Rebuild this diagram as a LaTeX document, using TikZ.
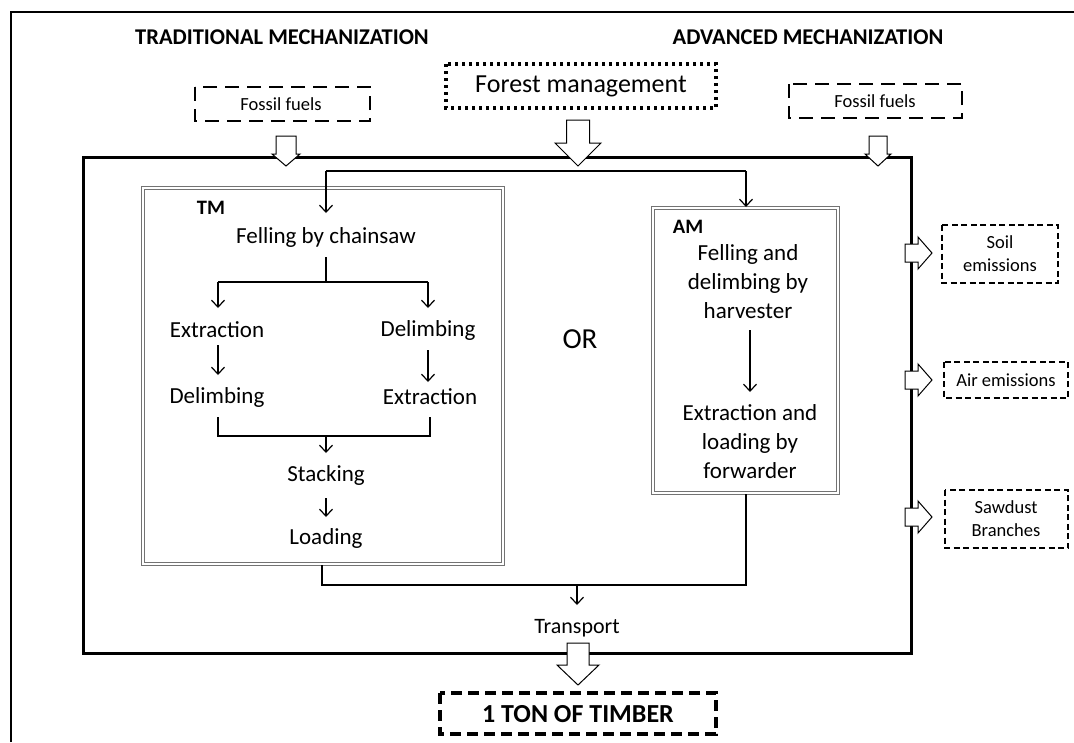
\documentclass[tikz,border=0pt]{standalone}
\usepackage{fontspec}
\setmainfont{Carlito}
\usetikzlibrary{arrows.meta}
\newcommand\blkdown[6]{% x, ytop, ybase, ytip, bodyhalf, headhalf
  \draw[blk] ({#1-#5},#2) -- ({#1+#5},#2) -- ({#1+#5},#3) -- ({#1+#6},#3) -- (#1,#4) -- ({#1-#6},#3) -- ({#1-#5},#3) -- cycle;}
\newcommand\blkright[6]{% y, xleft, xbase, xtip, bodyhalf, headhalf
  \draw[blk] (#2,{#1-#5}) -- (#3,{#1-#5}) -- (#3,{#1-#6}) -- (#4,#1) -- (#3,{#1+#6}) -- (#3,{#1+#5}) -- (#2,{#1+#5}) -- cycle;}
\begin{document}
\begin{tikzpicture}[x=1pt,y=-1pt,
  txt/.style={font=\fontsize{23}{29}\selectfont, inner sep=0pt, align=center},
  hdr/.style={font=\fontsize{22.5}{27}\selectfont\bfseries, inner sep=0pt},
  lbl/.style={font=\fontsize{20.5}{24}\selectfont\bfseries, inner sep=0pt},
  small/.style={font=\fontsize{18.5}{23}\selectfont, inner sep=0pt, align=center},
  conn/.style={line width=1.2pt, -{Straight Barb[length=7pt,width=13pt]}},
  wire/.style={line width=1.2pt},
  blk/.style={draw, fill=white, line width=1pt, line join=miter},
  fossil/.style={draw, line width=2pt, dash pattern=on 14pt off 8pt},
  emis/.style={draw, line width=2pt, dash pattern=on 6pt off 3.5pt},
  procbox/.style={draw=gray!90!black, double=white, double distance=1.6pt, line width=1.2pt}
]
\fill[white] (0,0) rectangle (1074,742);
\useasboundingbox (0,0) rectangle (1074,742);

% outer frame
\draw[line width=1.5pt] (11,742) -- (11,12) -- (1074,12);

% headers
\node[hdr] (hTM) at (282,37) {TRADITIONAL MECHANIZATION};
\node[hdr] (hAM) at (808,37) {ADVANCED MECHANIZATION};

% inputs
\draw[fossil] (195,87) rectangle (370,121);
\node[small] (ffL) at (281,104) {Fossil fuels};
\draw[fossil] (789,84) rectangle (962,118);
\node[small] (ffR) at (875,101) {Fossil fuels};
\draw[line width=3.5pt, dash pattern=on 3pt off 4pt] (446,64) rectangle (716,108);
\node[font=\fontsize{26}{31}\selectfont, inner sep=0pt] (fm) at (581,86) {Forest management};

% main system box
\draw[line width=3pt] (83,157) rectangle (911,653);

% block arrows into the system
\blkdown{286}{136}{154}{166}{10}{14}
\blkdown{878}{136}{154}{166}{9}{13}
\blkdown{578}{120}{143}{166}{11.5}{23}

% TM box
\draw[procbox] (143,188) rectangle (503,564);
\node[lbl] (tm) at (211,208) {TM};
\node[txt] (fell) at (326,237) {Felling by chainsaw};
\node[txt] (extL) at (217,330) {Extraction};
\node[txt] (delR) at (428,330) {Delimbing};
\node[txt] (delL) at (217,397) {Delimbing};
\node[txt] (extR) at (430,397) {Extraction};
\node[txt] (stack) at (326,475) {Stacking};
\node[txt] (load) at (326,538) {Loading};

% AM box
\draw[procbox] (653,208) rectangle (838,493);
\node[lbl] (am) at (688,227) {AM};
\node[txt] (fellAM) at (748,282) {Felling and\\delimbing by\\harvester};
\node[txt] (extAM) at (750,442) {Extraction and\\loading by\\forwarder};

\node[font=\fontsize{29}{34}\selectfont, inner sep=0pt] (or) at (580,339) {OR};
\node[txt, font=\fontsize{22}{26}\selectfont] (trans) at (577,628) {Transport};

% coordinates for connectors
\coordinate (topL) at (326,171);
\coordinate (topR) at (746,171);
\coordinate (split) at (326,282);
\coordinate (merge) at (326,436);
\coordinate (botL) at (322,585);
\coordinate (botR) at (746,585);
\coordinate (botM) at (577,585);

% top distribution line
\draw[wire] (topL) -- (topR);
\draw[conn] (topL) -- (326,213);
\draw[conn] (topR) -- (746,207);

% TM flow
\draw[wire] (326,257) -- (split);
\draw[wire] (218,282) -- (428,282);
\draw[conn] (218,282) -- (218,308);
\draw[conn] (428,282) -- (428,308);
\draw[conn] (218,345) -- (218,375);
\draw[conn] (428,350) -- (428,382);
\draw[wire] (218,417) -- (218,436) -- (430,436) -- (430,417);
\draw[conn] (merge) -- (326,453);
\draw[conn] (326,498) -- (326,517);

% AM flow
\draw[conn] (750,330) -- (750,392);

% to transport
\draw[wire] (322,565) -- (botL) -- (botR) -- (746,494);
\draw[line width=2pt] (497,585) -- (577,585);
\draw[conn] (botM) -- (577,605);

% outputs
\blkright{253}{905}{918}{932}{9}{16}
\blkright{380}{905}{918}{932}{9}{16}
\blkright{517}{905}{918}{932}{9}{16}
\draw[emis] (942,225) rectangle (1058,283);
\node[small] (soil) at (1000,254) {Soil\\emissions};
\draw[emis] (944,362) rectangle (1068,398);
\node[small] (air) at (1006,380) {Air emissions};
\draw[emis] (945,490) rectangle (1068,548);
\node[small] (saw) at (1006,519) {Sawdust\\Branches};

% product
\blkdown{578}{643}{665}{685}{11}{21}
\draw[line width=3.5pt, dash pattern=on 11pt off 6pt] (440,693) rectangle (716,734);
\node[font=\fontsize{26}{31}\selectfont\bfseries, inner sep=0pt] (ton) at (578,714) {1 TON OF TIMBER};
\end{tikzpicture}
\end{document}
